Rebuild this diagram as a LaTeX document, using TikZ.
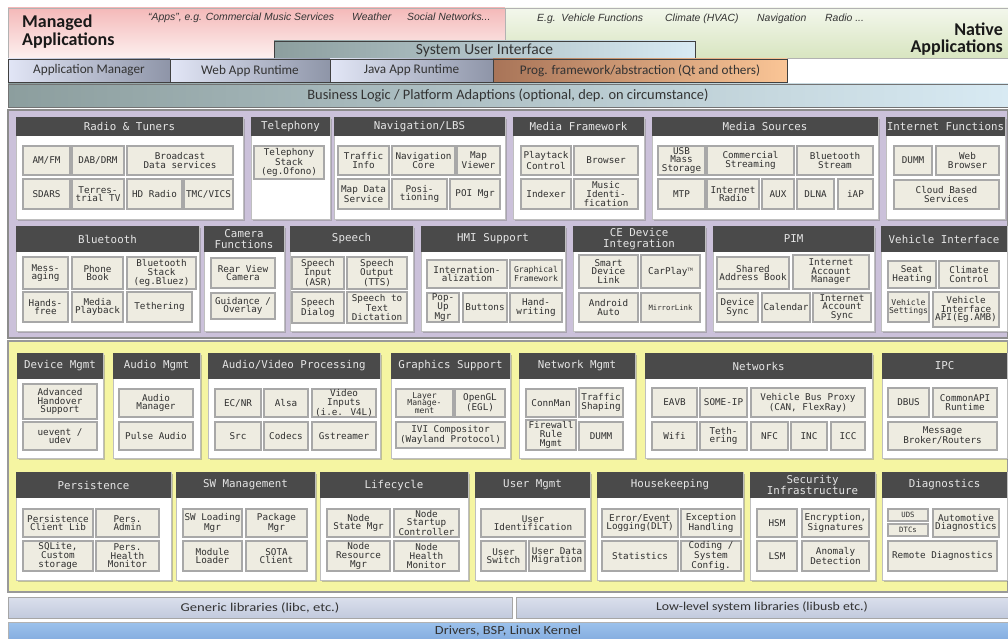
\documentclass[tikz,border=0pt]{standalone}
\usepackage{fontspec}
\setmainfont{Carlito}
\newfontfamily\monof{DejaVu Sans Mono}
\newfontfamily\arialf{Liberation Sans}
\usetikzlibrary{shadows}

\definecolor{hdr}{HTML}{4A4A4A}
\definecolor{hdrtxt}{HTML}{E6E6E6}
\definecolor{ibfill}{HTML}{EEECE1}
\definecolor{ibline}{HTML}{A8A8A8}
\definecolor{ibtxt}{HTML}{303030}
\definecolor{purp}{HTML}{CBC1DA}
\definecolor{yel}{HTML}{F5F5A2}
\definecolor{pinkTop}{HTML}{F4B9B9}
\definecolor{pinkBot}{HTML}{FDF0EF}
\definecolor{grnTop}{HTML}{F3F7EC}
\definecolor{grnBot}{HTML}{D8E5C0}
\definecolor{suiL}{HTML}{8C9E9E}
\definecolor{suiR}{HTML}{D8EAF3}
\definecolor{rowL}{HTML}{E2E6F6}
\definecolor{rowR}{HTML}{8E95A8}
\definecolor{progL}{HTML}{A87458}
\definecolor{progM}{HTML}{F7BB8A}
\definecolor{progR}{HTML}{FAC596}
\definecolor{libTop}{HTML}{DADFEC}
\definecolor{libBot}{HTML}{C2CADD}
\definecolor{drvTop}{HTML}{9CC2EC}
\definecolor{drvBot}{HTML}{86AEE0}

% a rectangle node given by its corners: [style]{name}{x1}{y1}{x2}{y2}{text}
\newcommand\mkrect[7][]{%
  \node[inner sep=0pt, #1, minimum width={(#5-#3)*1pt}, minimum height={(#6-#4)*1pt}]
    (#2) at ({(#3+#5)/2},{(#4+#6)/2}) {#7};}
% a module: white body with a dark title bar
\newcommand\mkmod[7]{%
  \mkrect[mbody]{#1}{#2}{#3}{#4}{#5}{}
  \mkrect[mhead]{#1-h}{#2}{#3}{#4}{#6}{#7}}
% a component box inside a module
\newcommand\mkbox[7][ibox]{\mkrect[#1]{#2}{#3}{#4}{#5}{#6}{#7}}

\begin{document}
\begin{tikzpicture}[x=1pt, y=-1pt,
  ibox/.style={draw=ibline, line width=1.1pt, fill=ibfill,
    align=center, text=ibtxt, font=\monof\fontsize{9.3}{8.6}\selectfont},
  ibmid/.style={ibox, font=\monof\fontsize{8.1}{7.6}\selectfont},
  ibsmall/.style={ibox, font=\monof\fontsize{7.3}{7.2}\selectfont},
  mbody/.style={fill=white, draw=black!25, line width=0.5pt,
    drop shadow={shadow xshift=1.6pt, shadow yshift=-1.6pt, opacity=0.45}},
  mhead/.style={fill=hdr, draw=none, align=center,
    text=hdrtxt, font=\monof\fontsize{10.8}{11}\selectfont},
  region/.style={line width=1.2pt},
  topbar/.style={draw=black!75, line width=0.8pt, text=black!80,
    font=\fontsize{13.2}{13.2}\selectfont},
  rowbox/.style={topbar, left color=rowL, right color=rowR},
  libbox/.style={draw=black!35, line width=0.8pt, text=black!80,
    top color=libTop, bottom color=libBot, font=\fontsize{12}{12}\selectfont},
  eg/.style={anchor=base west, inner sep=0pt, text=black!80,
    font=\arialf\itshape\fontsize{10.4}{10.4}\selectfont},
  title/.style={inner sep=0pt, text=black!90, font=\bfseries\fontsize{18}{18}\selectfont}
]
\useasboundingbox (0,0) rectangle (1008,639);

% ---------------- application layer ----------------
\mkrect[region, top color=pinkTop, bottom color=pinkBot, draw=black!30, line width=0.6pt]{managed}{8}{8}{505}{58}{}
\mkrect[region, top color=grnTop, bottom color=grnBot, draw=black!30, line width=0.6pt]{native}{505}{8}{1008}{58}{}

\node[title, anchor=base west] (managedA) at (22,28) {Managed};
\node[title, anchor=base west] (managedB) at (22,46) {Applications};
\node[title, anchor=base east] (nativeA) at (1003,36) {Native};
\node[title, anchor=base east] (nativeB) at (1003,53) {Applications};

\node[eg] (eg1) at (148,21) {“Apps”, e.g. Commercial Music Services};
\node[eg] (eg2) at (352,21) {Weather};
\node[eg] (eg3) at (407,21) {Social Networks...};
\node[eg] (eg4) at (537,22) {E.g.\ \ Vehicle Functions};
\node[eg] (eg5) at (665,22) {Climate (HVAC)};
\node[eg] (eg6) at (757,22) {Navigation};
\node[eg] (eg7) at (825,22) {Radio ...};

\mkrect[topbar, left color=suiL, right color=suiR, font=\fontsize{15.5}{15.5}\selectfont]{sui}{274}{41}{695}{59}{System User Interface}

\mkrect[rowbox]{appmgr}{8}{59}{170}{82}{Application Manager}
\mkrect[rowbox]{webrt}{170}{59}{330}{82}{Web App Runtime}
\mkrect[rowbox]{javart}{330}{59}{493}{82}{Java App Runtime}
\mkrect[topbar, left color=progL, middle color=progM, right color=progR]{prog}{493}{59}{787}{82}{Prog. framework/abstraction (Qt and others)}

\mkrect[topbar, left color=suiL, right color=suiR, draw=black!55, font=\fontsize{14.4}{14.4}\selectfont]{bizlogic}{8}{84}{1008}{107}{Business Logic / Platform Adaptions (optional, dep. on circumstance)}

% ---------------- regions ----------------
\mkrect[region, fill=purp, draw=black!45]{upper}{8}{110}{1008}{338}{}
\mkrect[region, fill=yel, draw=black!40]{lower}{8}{341}{1008}{592}{}

% ---------------- upper region, row 1 ----------------
\mkmod{radio}{16}{117}{243}{219}{136}{Radio \& Tuners}
\mkbox{amfm}{23}{146}{70}{175}{AM/FM}
\mkbox{dab}{72}{146}{124}{175}{DAB/DRM}
\mkbox{bcast}{127}{146}{233}{175}{Broadcast\\Data services}
\mkbox{sdars}{23}{179}{70}{209}{SDARS}
\mkbox{terr}{72}{179}{124}{209}{Terres-\\trial TV}
\mkbox{hdr}{127}{179}{182}{209}{HD Radio}
\mkbox{tmc}{184}{179}{233}{209}{TMC/VICS}

\mkmod{tel}{251}{117}{330}{219}{136}{Telephony}
\mkbox{tstack}{254}{146}{324}{179}{Telephony\\Stack\\(eg.Ofono)}

\mkmod{nav}{334}{117}{505}{219}{136}{Navigation/LBS}
\mkbox{traffic}{338}{146}{389}{175}{Traffic\\Info}
\mkbox{navcore}{392}{146}{455}{175}{Navigation\\Core}
\mkbox{mapv}{457}{146}{500}{175}{Map\\Viewer}
\mkbox{mapd}{338}{179}{389}{209}{Map Data\\Service}
\mkbox{posi}{392}{179}{447}{209}{Posi-\\tioning}
\mkbox{poi}{450}{179}{500}{209}{POI Mgr}

\mkmod{mfw}{513}{117}{644}{219}{136}{Media Framework}
\mkbox{play}{521}{146}{571}{175}{Playtack\\Control}
\mkbox{browser}{574}{146}{638}{175}{Browser}
\mkbox{indexer}{521}{179}{571}{209}{Indexer}
\mkbox{music}{574}{179}{638}{209}{Music\\Identi-\\fication}

\mkmod{msrc}{652}{117}{878}{219}{136}{Media Sources}
\mkbox{usb}{658}{146}{705}{175}{USB\\Mass\\Storage}
\mkbox{comm}{707}{146}{794}{175}{Commercial\\Streaming}
\mkbox{btstream}{797}{146}{873}{175}{Bluetooth\\Stream}
\mkbox{mtp}{658}{179}{705}{209}{MTP}
\mkbox{iradio}{707}{179}{759}{209}{Internet\\Radio}
\mkbox{aux}{762}{179}{794}{209}{AUX}
\mkbox{dlna}{797}{179}{834}{209}{DLNA}
\mkbox{iap}{838}{179}{873}{209}{iAP}

\mkmod{inet}{886}{117}{1005}{219}{136}{Internet Functions}
\mkbox{dummA}{894}{146}{932}{175}{DUMM}
\mkbox{web}{936}{146}{999}{175}{Web\\Browser}
\mkbox{cloud}{894}{180}{999}{209}{Cloud Based\\Services}

% ---------------- upper region, row 2 ----------------
\mkmod{bt}{16}{226}{199}{331}{252}{Bluetooth}
\mkbox{msg}{23}{257}{68}{289}{Mess-\\aging}
\mkbox{phone}{72}{257}{123}{289}{Phone\\Book}
\mkbox{btstack}{127}{257}{196}{289}{Bluetooth\\Stack\\(eg.Bluez)}
\mkbox{hands}{23}{292}{68}{322}{Hands-\\free}
\mkbox{mplay}{72}{292}{123}{322}{Media\\Playback}
\mkbox{tethA}{127}{292}{192}{322}{Tethering}

\mkmod{cam}{204}{226}{284}{331}{252}{Camera\\Functions}
\mkbox{rear}{211}{258}{275}{288}{Rear View\\Camera}
\mkbox{guide}{211}{293}{275}{319}{Guidance /\\Overlay}

\mkmod{speech}{290}{226}{413}{331}{252}{Speech}
\mkbox{asr}{292}{257}{344}{289}{Speech\\Input\\(ASR)}
\mkbox{tts}{347}{257}{407}{289}{Speech\\Output\\(TTS)}
\mkbox{sdialog}{292}{292}{344}{323}{Speech\\Dialog}
\mkbox{stt}{347}{292}{407}{323}{Speech to\\Text\\Dictation}

\mkmod{hmi}{421}{226}{565}{331}{252}{HMI Support}
\mkbox{intl}{427}{260}{507}{288}{Internation-\\alization}
\mkbox[ibmid]{gfw}{510}{260}{562}{288}{Graphical\\Framework}
\mkbox{popup}{427}{293}{459}{322}{Pop-\\Up\\Mgr}
\mkbox{buttons}{463}{293}{507}{322}{Buttons}
\mkbox{hand}{510}{293}{562}{322}{Hand-\\writing}

\mkmod{ce}{573}{226}{705}{331}{252}{CE Device\\Integration}
\mkbox{sdl}{579}{255}{638}{288}{Smart\\Device\\Link}
\mkbox{carplay}{641}{255}{700}{288}{CarPlay\raisebox{2.5pt}{\fontsize{4.5}{4.5}\selectfont TM}}
\mkbox{aauto}{579}{293}{638}{322}{Android\\Auto}
\mkbox[ibsmall]{mlink}{641}{293}{700}{322}{MirrorLink}

\mkmod{pim}{713}{226}{874}{331}{252}{PIM}
\mkbox{addr}{717}{257}{789}{289}{Shared\\Address Book}
\mkbox{iam}{793}{255}{869}{289}{Internet\\Account\\Manager}
\mkbox{dsync}{717}{293}{758}{322}{Device\\Sync}
\mkbox{cal}{762}{293}{810}{322}{Calendar}
\mkbox{ias}{813}{293}{871}{322}{Internet\\Account\\Sync}

\mkmod{vif}{881}{226}{1007}{331}{252}{Vehicle Interface}
\mkbox{seat}{888}{261}{936}{288}{Seat\\Heating}
\mkbox{climate}{939}{261}{999}{288}{Climate\\Control}
\mkbox[ibmid]{vset}{888}{292}{929}{322}{Vehicle\\Settings}
\mkbox{vapi}{933}{292}{999}{327}{Vehicle\\Interface\\API(Eg.AMB)}

% ---------------- lower region, row 1 ----------------
\mkmod{dev}{17}{353}{103}{458}{379}{Device Mgmt}
\mkbox{aho}{23}{384}{97}{419}{Advanced\\Handover\\Support}
\mkbox{uevent}{23}{422}{97}{450}{uevent /\\udev}

\mkmod{aud}{113}{353}{200}{458}{379}{Audio Mgmt}
\mkbox{amgr}{119}{389}{193}{417}{Audio\\Manager}
\mkbox{pulse}{119}{422}{193}{450}{Pulse Audio}

\mkmod{avp}{208}{353}{380}{458}{379}{Audio/Video Processing}
\mkbox{ecnr}{215}{389}{261}{417}{EC/NR}
\mkbox{alsa}{264}{389}{308}{417}{Alsa}
\mkbox{vinput}{312}{389}{376}{417}{Video\\Inputs\\(i.e. V4L)}
\mkbox{src}{215}{422}{261}{450}{Src}
\mkbox{codecs}{264}{422}{308}{450}{Codecs}
\mkbox{gst}{312}{422}{376}{450}{Gstreamer}

\mkmod{gfx}{391}{353}{510}{458}{379}{Graphics Support}
\mkbox[ibmid]{layer}{396}{389}{453}{417}{Layer\\Manage-\\ment}
\mkbox{opengl}{455}{389}{505}{417}{OpenGL\\(EGL)}
\mkbox{ivi}{396}{422}{505}{448}{IVI Compositor\\(Wayland Protocol)}

\mkmod{netm}{519}{353}{635}{458}{379}{Network Mgmt}
\mkbox{connman}{526}{389}{576}{417}{ConnMan}
\mkbox{tshape}{579}{388}{623}{417}{Traffic\\Shaping}
\mkbox{fw}{526}{420}{576}{450}{Firewall\\Rule\\Mgmt}
\mkbox{dummB}{579}{422}{623}{450}{DUMM}

\mkmod{nets}{645}{353}{872}{458}{379}{Networks}
\mkbox{eavb}{652}{388}{697}{417}{EAVB}
\mkbox{someip}{700}{388}{747}{417}{SOME-IP}
\mkbox{vbp}{751}{388}{865}{417}{Vehicle Bus Proxy\\(CAN, FlexRay)}
\mkbox{wifi}{652}{422}{697}{450}{Wifi}
\mkbox{tethB}{700}{422}{747}{450}{Teth-\\ering}
\mkbox{nfc}{751}{422}{788}{450}{NFC}
\mkbox{inc}{791}{422}{827}{450}{INC}
\mkbox{icc}{831}{422}{865}{450}{ICC}

\mkmod{ipc}{882}{353}{1007}{458}{379}{IPC}
\mkbox{dbus}{888}{388}{929}{417}{DBUS}
\mkbox{capi}{933}{388}{997}{417}{CommonAPI\\Runtime}
\mkbox{broker}{888}{422}{997}{450}{Message\\Broker/Routers}

% ---------------- lower region, row 2 ----------------
\mkmod{pers}{16}{472}{171}{580}{498}{Persistence}
\mkbox{pcl}{23}{509}{93}{537}{Persistence\\Client Lib}
\mkbox{padmin}{96}{509}{159}{537}{Pers.\\Admin}
\mkbox{sqlite}{23}{541}{93}{571}{SQLite,\\Custom\\storage}
\mkbox{phm}{96}{541}{159}{571}{Pers.\\Health\\Monitor}

\mkmod{swm}{176}{472}{315}{580}{498}{SW Management}
\mkbox{swl}{183}{509}{242}{537}{SW Loading\\Mgr}
\mkbox{pkg}{246}{509}{307}{537}{Package\\Mgr}
\mkbox{modload}{183}{541}{242}{571}{Module\\Loader}
\mkbox{sota}{246}{541}{307}{571}{SOTA\\Client}

\mkmod{life}{320}{472}{468}{580}{498}{Lifecycle}
\mkbox{nsm}{327}{509}{390}{537}{Node\\State Mgr}
\mkbox{nsc}{394}{509}{459}{537}{Node\\Startup\\Controller}
\mkbox{nrm}{327}{541}{390}{571}{Node\\Resource\\Mgr}
\mkbox{nhm}{394}{541}{459}{571}{Node\\Health\\Monitor}

\mkmod{user}{475}{472}{590}{580}{498}{User Mgmt}
\mkbox{uid}{481}{509}{585}{537}{User\\Identification}
\mkbox{uswitch}{481}{541}{526}{571}{User\\Switch}
\mkbox{udm}{529}{541}{585}{571}{User Data\\Migration}

\mkmod{hk}{597}{472}{743}{580}{498}{Housekeeping}
\mkbox{dlt}{602}{509}{678}{537}{Error/Event\\Logging(DLT)}
\mkbox{exc}{681}{509}{741}{537}{Exception\\Handling}
\mkbox{stats}{602}{541}{678}{571}{Statistics}
\mkbox{coding}{681}{541}{741}{571}{Coding /\\System\\Config.}

\mkmod{sec}{750}{472}{875}{580}{498}{Security\\Infrastructure}
\mkbox{hsm}{757}{509}{797}{537}{HSM}
\mkbox{enc}{802}{509}{869}{537}{Encryption,\\Signatures}
\mkbox{lsm}{757}{541}{797}{571}{LSM}
\mkbox{anom}{802}{541}{869}{571}{Anomaly\\Detection}

\mkmod{diag}{882}{472}{1007}{580}{498}{Diagnostics}
\mkbox[ibsmall]{uds}{888}{509}{928}{521}{UDS}
\mkbox[ibsmall]{dtc}{888}{524}{928}{536}{DTCs}
\mkbox{autodiag}{933}{509}{999}{537}{Automotive\\Diagnostics}
\mkbox{rdiag}{888}{541}{997}{571}{Remote Diagnostics}

% ---------------- libraries and kernel ----------------
\mkrect[libbox]{genlib}{8}{597}{512}{618}{\scalebox{1.22}[1]{Generic libraries (libc, etc.)}}
\mkrect[libbox]{lowlib}{516}{597}{1008}{618}{\scalebox{1.15}[1]{Low-level system libraries (libusb etc.)}}
\mkrect[top color=drvTop, bottom color=drvBot, draw=black!30, line width=0.6pt,
  text=black!80, font=\fontsize{12.5}{12.5}\selectfont]{drivers}{8}{622}{1008}{639}{\scalebox{1.15}[1]{Drivers, BSP, Linux Kernel}}
\end{tikzpicture}
\end{document}
